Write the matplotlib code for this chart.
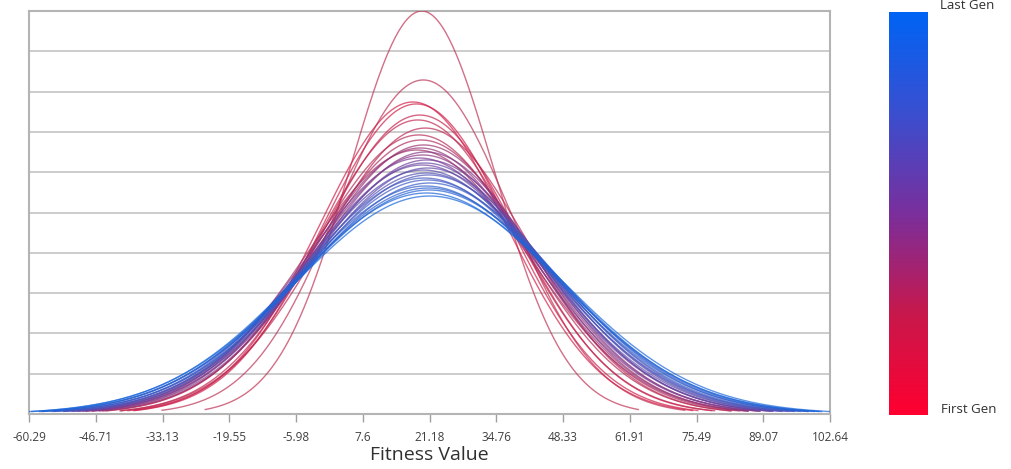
import numpy as np
import matplotlib
matplotlib.use("Agg")
import matplotlib.pyplot as plt
from matplotlib.colors import LinearSegmentedColormap, to_rgb

# ---- data: one normal distribution of fitness per generation (first -> last)
gen_means = [19.6, 19.9, 17.8, 18.5, 19.2, 18.8, 20.3, 19.0, 19.5, 18.6,
             20.0, 19.3, 19.8, 20.4, 19.1, 20.6, 19.7, 20.2, 20.8, 19.9,
             20.5, 21.0, 20.1, 20.7, 21.2, 20.4, 20.9, 21.1, 20.6, 21.18]
gen_stds = [14.68, 17.71, 18.96, 19.08, 19.79, 20.12, 20.69, 21.20, 21.59, 22.41,
            21.99, 22.24, 22.84, 22.58, 23.11, 23.29, 23.76, 23.57, 24.05, 24.25,
            24.55, 24.75, 25.07, 25.28, 25.61, 25.95, 26.18, 26.41, 26.77, 27.14]
tick_labels = ['-60.29', '-46.71', '-33.13', '-19.55', '-5.98', '7.6', '21.18',
               '34.76', '48.33', '61.91', '75.49', '89.07', '102.64']
x_min, x_max = -60.29, 102.64

plt.rcParams['font.family'] = ['Open Sans', 'DejaVu Sans']

cmap = LinearSegmentedColormap.from_list(
    'gen', ['#ff0030', '#c8184c', '#7a2f9c', '#3a4fd0', '#0064f5'])

fig = plt.figure(figsize=(10.12, 4.69), dpi=100)
ax = fig.add_axes([0.0287, 0.1173, 0.7915, 0.8592])

n = len(gen_means)
gray = np.array(to_rgb('#707080'))
peaks = []
for i, (m, s) in enumerate(zip(gen_means, gen_stds)):
    xs = np.linspace(m - 3 * s, m + 3 * s, 400)
    ys = np.exp(-0.5 * ((xs - m) / s) ** 2) / (s * np.sqrt(2 * np.pi))
    peaks.append(ys.max())
    t = i / (n - 1)
    mix = 0.45 if i < 2 else 0.22
    col = (1 - mix) * np.array(cmap(t)[:3]) + mix * gray
    ax.plot(xs, ys, color=col, lw=1.0, alpha=0.7, zorder=3 + i)

ymax = max(peaks)
ax.set_xlim(x_min, x_max)
ax.set_ylim(0, ymax)
ax.set_yticks(np.linspace(0, ymax, 11))
ax.set_yticklabels([])
ax.tick_params(axis='y', length=0)
ax.grid(axis='y', color='#c4c4c4', lw=1.2, zorder=0)
ax.set_xticks(np.linspace(x_min, x_max, len(tick_labels)))
ax.set_xticklabels(tick_labels, fontsize=8.5, color='#404040')
ax.tick_params(axis='x', direction='out', length=6, width=1, color='#a0a0a0', pad=6)
for sp in ax.spines.values():
    sp.set_color('#b4b4b4')
    sp.set_linewidth(1.5)
ax.set_xlabel('Fitness Value', fontsize=14, color='#303030', labelpad=2)

# colour bar
cax = fig.add_axes([0.8785, 0.1151, 0.0385, 0.859])
grad = np.linspace(0, 1, 256).reshape(-1, 1)
cax.imshow(grad, aspect='auto', cmap=cmap, origin='lower')
cax.set_axis_off()
fig.text(0.929, 0.988, 'Last Gen', fontsize=9.5, color='#303030', va='center', ha='left')
fig.text(0.930, 0.126, 'First Gen', fontsize=9.5, color='#303030', va='center', ha='left')

fig.savefig('out.png', dpi=100, facecolor='white')
